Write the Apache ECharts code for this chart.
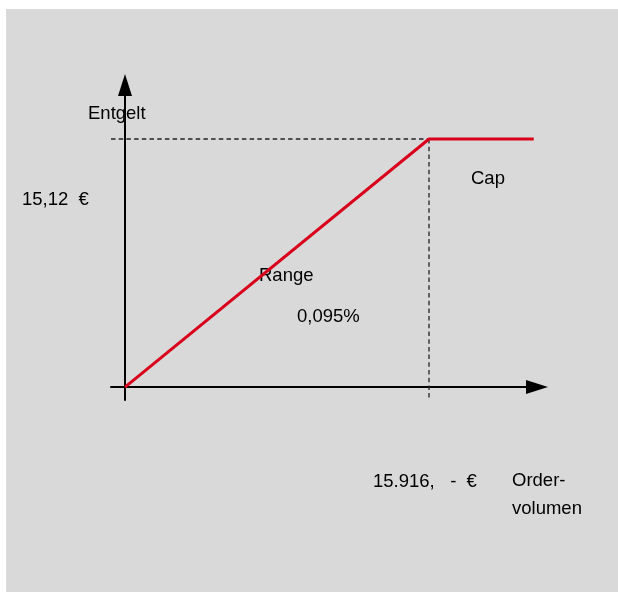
<!DOCTYPE html>
<html lang="de">
<head>
<meta charset="UTF-8">
<title>Entgelt - Ordervolumen</title>
<script src="https://cdn.jsdelivr.net/npm/echarts@6/dist/echarts.min.js"></script>
<style>
    html, body { margin: 0; padding: 0; background: #ffffff; }
    #bg { position: absolute; left: 6px; top: 9px; right: 0; bottom: 0; background: #d9d9d9; }
    #box { position: absolute; left: 0; top: 0; width: 618px; height: 592px; }
</style>
</head>
<body>
<div id="bg"></div>
<div id="box"></div>
<script>
    // Entgeltkurve: linear bis zum Cap, danach flach
    var orderVolumen = [0, 15916, 21400];
    var entgelt = [0, 15.12, 15.12];
    // Schwellenwerte fuer die gestrichelten Hilfslinien
    var capVolumen = 15916;
    var capEntgelt = 15.12;
    // Achsenbereich
    var xMin = -733, xMax = 21570;
    var yMin = -0.79, yMax = 18.41;

    var kurve = [];
    for (var i = 0; i < orderVolumen.length; i++)
        kurve.push([orderVolumen[i], entgelt[i]]);

    var font = 'Liberation Sans, Arial, sans-serif';
    // Beschriftung: x = linker Rand, y = Mitte der Zeile
    function txt(text, x, y) {
        return {
            type: 'text', x: x, y: y,
            style: { text: text, fill: '#000', font: '18.5px ' + font, verticalAlign: 'middle' }
        };
    }

    var myChart = echarts.init(document.getElementById('box'));
    var option = {
        animation: false,
        grid: { left: 111, right: 618 - 537, top: 85, bottom: 592 - 400 },
        xAxis: {
            type: 'value', min: xMin, max: xMax,
            axisLine: { show: true, onZero: true, symbol: ['none', 'triangle'], symbolSize: [14, 22],
                        lineStyle: { color: '#000', width: 2 } },
            axisTick: { show: false }, axisLabel: { show: false }, splitLine: { show: false }
        },
        yAxis: {
            type: 'value', min: yMin, max: yMax,
            axisLine: { show: true, onZero: true, symbol: ['none', 'triangle'], symbolSize: [14, 22],
                        lineStyle: { color: '#000', width: 2 } },
            axisTick: { show: false }, axisLabel: { show: false }, splitLine: { show: false }
        },
        series: [
            {
                type: 'line', data: [[xMin, capEntgelt], [capVolumen, capEntgelt]],
                symbol: 'none', silent: true, z: 1,
                lineStyle: { color: '#222', width: 1.3, type: [4.5, 3.2] }
            },
            {
                type: 'line', data: [[capVolumen, capEntgelt], [capVolumen, yMin]],
                symbol: 'none', silent: true, z: 1,
                lineStyle: { color: '#222', width: 1.3, type: [4.5, 3.2] }
            },
            {
                type: 'line', data: kurve, symbol: 'none', z: 3,
                lineStyle: { color: '#d9001b', width: 3 }
            }
        ],
        graphic: [
            txt('Entgelt', 88, 114),
            txt('15,12  €', 22, 200),
            txt('Cap', 471, 179),
            txt('Range', 259, 276),
            txt('0,095%', 297, 317),
            txt('15.916,   -  €', 373, 482),
            txt('Order-', 512, 481),
            txt('volumen', 512, 509)
        ]
    };
    myChart.setOption(option);
</script>
</body>
</html>
